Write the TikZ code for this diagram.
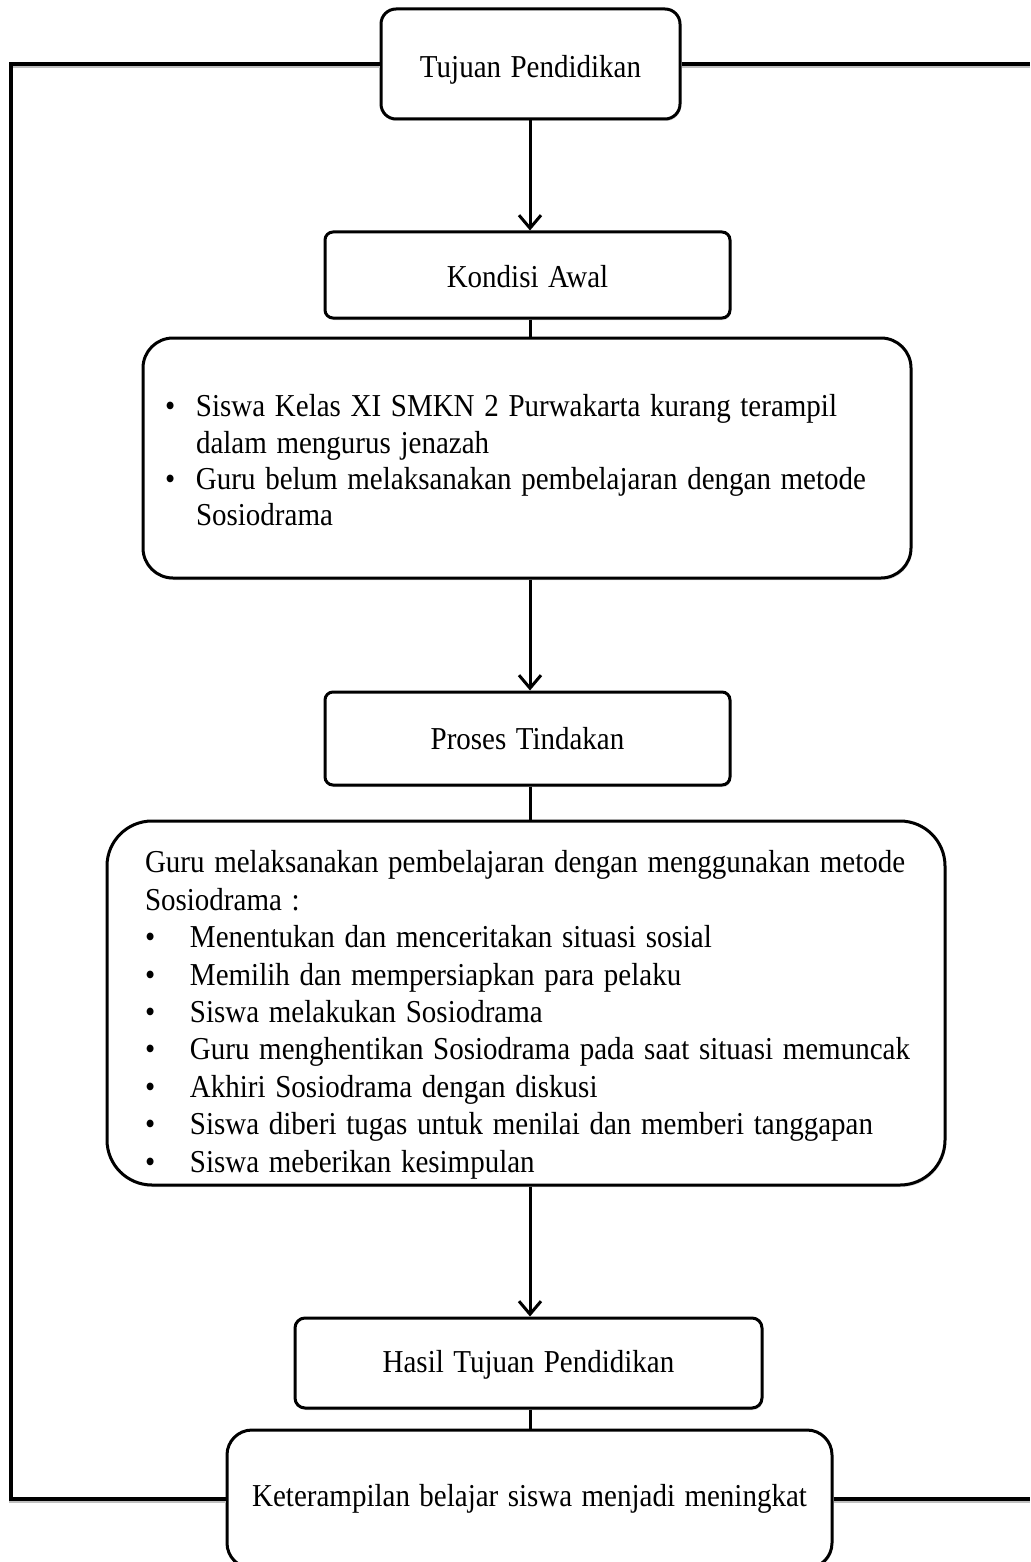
\documentclass[tikz,border=0pt]{standalone}
\usepackage{fontspec}
\usepackage{graphicx}
\setmainfont{Liberation Serif}[WordSpace=1.3]
\usetikzlibrary{arrows.meta,shadows}
\newcommand{\vs}[1]{\scalebox{1}[1.1]{#1}}
\newcommand{\down}[2]{\raisebox{0pt}[\dimexpr\height+#1*2\relax][\depth]{#2}}
\newcommand{\bul}[1]{\makebox[#1][l]{•}}
\tikzset{
  box/.style={draw, line width=3pt, fill=white, rounded corners=#1,
    drop shadow={shadow xshift=1pt, shadow yshift=-2pt, opacity=0.3},
    inner sep=0pt, align=center, font=\fontsize{29}{34}\selectfont},
  flow/.style={line width=3pt},
  flowarrow/.style={line width=3pt, -{Straight Barb[length=13pt,width=22pt]}},
  loopline/.style={line width=3.5pt,
    preaction={draw=black!25, line width=3.5pt, transform canvas={yshift=-2.5pt}}}
}
\begin{document}
\begin{tikzpicture}[x=1pt, y=-1pt]
\useasboundingbox (0,0) rectangle (1030,1562);
\clip (0,0) rectangle (1030,1562);
\coordinate (lft) at (11,0);
\coordinate (rgt) at (1030,0);

\node[box=15pt, minimum width=299pt, minimum height=110pt] (tp) at (530.5,64)
  {\down{6pt}{\vs{Tujuan Pendidikan}}};
\node[box=25pt, minimum width=605pt, minimum height=138pt] (ket) at (529.5,1499)
  {\vs{Keterampilan belajar siswa menjadi meningkat}};

\draw[loopline] (tp.west) -- (tp.west -| lft) -- (lft |- ket.west) -- (ket.west);
\draw[loopline] (tp.east) -- (tp.east -| rgt);
\draw[loopline] (ket.east) -- (ket.east -| rgt);

\node[box=8pt, minimum width=405pt, minimum height=86pt] (ka) at (527.5,275)
  {\down{2pt}{\vs{Kondisi Awal}}};

\node[box=30pt, minimum width=768pt, minimum height=240pt, inner xsep=22pt,
      text width=724pt, align=left, font=\fontsize{29}{33}\selectfont] (kond) at (527,458)
  {\down{6pt}{\vs{\begin{tabular}{@{}l@{}}
  \bul{31pt}Siswa Kelas XI SMKN 2 Purwakarta kurang terampil\\
  \hspace{31pt}dalam mengurus jenazah\\
  \bul{31pt}Guru belum melaksanakan pembelajaran dengan metode\\
  \hspace{31pt}Sosiodrama
  \end{tabular}}}};

\node[box=8pt, minimum width=405pt, minimum height=93pt] (pt) at (527.5,738.5)
  {\vs{Proses Tindakan}};

\node[box=45pt, minimum width=838pt, minimum height=364pt, inner xsep=38pt,
      text width=762pt, align=left, font=\fontsize{29}{34}\selectfont] (proc) at (526,1003)
  {\down{12pt}{\vs{\begin{tabular}{@{}l@{}}
  Guru melaksanakan pembelajaran dengan menggunakan metode\\
  Sosiodrama :\\
  \bul{45pt}Menentukan dan menceritakan situasi sosial\\
  \bul{45pt}Memilih dan mempersiapkan para pelaku\\
  \bul{45pt}Siswa melakukan Sosiodrama\\
  \bul{45pt}Guru menghentikan Sosiodrama pada saat situasi memuncak\\
  \bul{45pt}Akhiri Sosiodrama dengan diskusi\\
  \bul{45pt}Siswa diberi tugas untuk menilai dan memberi tanggapan\\
  \bul{45pt}Siswa meberikan kesimpulan
  \end{tabular}}}};

\node[box=10pt, minimum width=467pt, minimum height=90pt] (hasil) at (528.5,1363)
  {\down{2pt}{\vs{Hasil Tujuan Pendidikan}}};

\draw[flowarrow] (530,0 |- tp.south) -- (530,0 |- ka.north);
\draw[flow] (530,0 |- ka.south) -- (530,0 |- kond.north);
\draw[flowarrow] (530,0 |- kond.south) -- (530,0 |- pt.north);
\draw[flow] (530,0 |- pt.south) -- (530,0 |- proc.north);
\draw[flowarrow] (530,0 |- proc.south) -- (530,0 |- hasil.north);
\draw[flow] (530,0 |- hasil.south) -- (530,0 |- ket.north);
\end{tikzpicture}
\end{document}
